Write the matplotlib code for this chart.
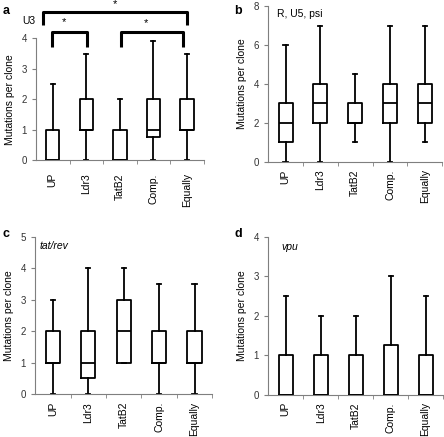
import numpy as np
import matplotlib
matplotlib.use('Agg')
import matplotlib.pyplot as plt

plt.rcParams['font.family'] = ['Liberation Sans', 'DejaVu Sans']

groups = ['UP', 'Ldr3', 'TatB2', 'Comp.', 'Equally']

# box stats per panel: (whislo, q1, med, q3, whishi)
u3 = [(0, 0, 0, 1, 2.5), (0, 1, 1, 2, 3.5), (0, 0, 0, 1, 2),
      (0, 0.75, 1, 2, 3.9), (0, 1, 1, 2, 3.5)]
r_u5_psi = [(0, 1, 2, 3, 6), (0, 2, 3, 4, 7), (1, 2, 2, 3, 4.5),
            (0, 2, 3, 4, 7), (1, 2, 3, 4, 7)]
tat_rev = [(0, 1, 1, 2, 3), (0, 0.5, 1, 2, 4), (1, 1, 2, 3, 4),
           (0, 1, 1, 2, 3.5), (0, 1, 1, 2, 3.5)]
vpu = [(0, 0, 0, 1, 2.5), (0, 0, 0, 1, 2), (0, 0, 0, 1, 2),
       (0, 0, 0, 1.25, 3), (0, 0, 0, 1, 2.5)]

# significance brackets for U3 (x start, x end)
u3_pairs = [(0.47, 1.53), (2.53, 4.38)]
u3_big = (0.2, 4.5)

panels = [
    ('a', u3, 4, 1, [0.081, 0.634, 0.378, 0.278], 9.5),
    ('b', r_u5_psi, 8, 2, [0.604, 0.630, 0.392, 0.356], 5.5),
    ('c', tat_rev, 5, 1, [0.079, 0.098, 0.399, 0.360], 5.5),
    ('d', vpu, 4, 1, [0.604, 0.097, 0.394, 0.361], 5.5),
]

fig = plt.figure(figsize=(4.44, 4.37), dpi=100)
gray = '#7f7f7f'

axes = {}
for letter, data, ymax, ystep, rect, xpad in panels:
    ax = fig.add_axes(rect)
    axes[letter] = ax
    stats = []
    for lo, q1, med, q3, hi in data:
        stats.append(dict(whislo=lo, q1=q1, med=med, q3=q3, whishi=hi, fliers=[]))
    pos = np.arange(len(groups)) + 0.5
    ax.bxp(stats, positions=pos, widths=0.4, showfliers=False,
           boxprops=dict(color='black', lw=1.3),
           whiskerprops=dict(color='black', lw=1.3),
           capprops=dict(color='black', lw=1.3),
           medianprops=dict(color='black', lw=1.3),
           capwidths=0.12)
    ax.set_xlim(0, len(groups))
    ax.set_ylim(0, ymax)
    ax.set_yticks(np.arange(0, ymax + 0.01, ystep))
    ax.set_xticks(pos)
    ax.set_xticklabels(groups, rotation=90, fontsize=7.5)
    ax.set_xticks(np.arange(1, len(groups) + 1), minor=True)
    ax.tick_params(axis='x', which='major', length=0, pad=xpad)
    ax.tick_params(axis='x', which='minor', length=3, color=gray, direction='out')
    ax.tick_params(axis='y', length=3, color=gray, labelsize=7, labelcolor='#333333')
    for s in ['top', 'right']:
        ax.spines[s].set_visible(False)
    for s in ['left', 'bottom']:
        ax.spines[s].set_color(gray)
    ax.set_ylabel('Mutations per clone', fontsize=7.5, labelpad=5)

    lx = 0.005 if letter in ('a', 'c') else 0.528
    ly = {'a': 0.975, 'b': 0.975, 'c': 0.465, 'd': 0.465}[letter]
    fig.text(lx, ly, letter, fontsize=9, fontweight='bold', va='center')

fig.text(0.05, 0.953, 'U3', fontsize=7.5, va='center')
fig.text(0.624, 0.968, 'R, U5, psi', fontsize=7.5, va='center')
fig.text(0.088, 0.437, 'tat/rev', fontsize=7.5, style='italic', va='center')
fig.text(0.633, 0.434, 'vpu', fontsize=7.5, style='italic', va='center')

# brackets on panel a
ax = axes['a']
kw = dict(color='black', lw=2.2, clip_on=False, solid_joinstyle='round',
          solid_capstyle='butt')
for xa, xb in u3_pairs:
    ax.plot([xa, xa, xb, xb], [3.73, 4.2, 4.2, 3.73], **kw)
ax.text(0.83, 4.55, '*', ha='center', va='center', fontsize=8)
ax.text(3.27, 4.5, '*', ha='center', va='center', fontsize=8)
ax.plot([u3_big[0], u3_big[0], u3_big[1], u3_big[1]], [4.44, 4.88, 4.88, 4.44], **kw)
ax.text(2.35, 5.12, '*', ha='center', va='center', fontsize=8, clip_on=False)

fig.savefig('out.png', dpi=100)
